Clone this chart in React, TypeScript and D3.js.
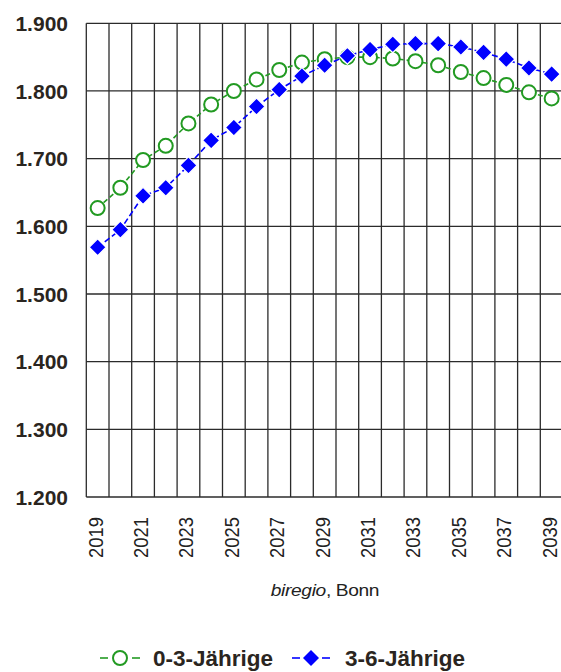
import React, { useEffect, useRef } from "react";
import * as d3 from "d3";

const years = [
  2019, 2020, 2021, 2022, 2023, 2024, 2025, 2026, 2027, 2028, 2029,
  2030, 2031, 2032, 2033, 2034, 2035, 2036, 2037, 2038, 2039,
];
const kids0to3 = [
  1.627, 1.657, 1.698, 1.719, 1.752, 1.78, 1.8, 1.817, 1.831, 1.842, 1.847,
  1.85, 1.85, 1.848, 1.844, 1.838, 1.828, 1.819, 1.809, 1.798, 1.789,
];
const kids3to6 = [
  1.569, 1.595, 1.645, 1.657, 1.69, 1.727, 1.746, 1.777, 1.802, 1.822, 1.838,
  1.852, 1.861, 1.869, 1.87, 1.87, 1.865, 1.857, 1.847, 1.834, 1.825,
];
const yTicks = [1.2, 1.3, 1.4, 1.5, 1.6, 1.7, 1.8, 1.9];
const seriesNames = ["0-3-Jährige", "3-6-Jährige"];

const App = () => {
  const svgRef = useRef<SVGSVGElement | null>(null);

  useEffect(() => {
    const width = 561;
    const height = 672;
    const margin = { top: 23.3, right: -2, bottom: 175, left: 86.3 };

    const svg = d3.select(svgRef.current).attr("width", width).attr("height", height);
    svg.selectAll("*").remove();

    const x = d3
      .scaleBand<number>()
      .domain(years)
      .range([margin.left, width - margin.right]);

    const y = d3
      .scaleLinear()
      .domain([1.2, 1.9])
      .range([height - margin.bottom, margin.top]);

    const cx = (yr: number) => x(yr)! + x.bandwidth() / 2;
    const grid = svg.append("g").attr("stroke", "#2b2b2b").attr("stroke-width", 1.3);

    // vertical lines at category borders
    d3.range(years.length + 1).forEach((i) => {
      const xx = margin.left + i * x.bandwidth();
      grid.append("line")
        .attr("x1", xx).attr("x2", xx)
        .attr("y1", y(1.9)).attr("y2", y(1.2));
    });

    // horizontal lines + labels
    yTicks.forEach((t) => {
      grid.append("line")
        .attr("x1", margin.left).attr("x2", width)
        .attr("y1", y(t)).attr("y2", y(t));
      svg.append("text")
        .attr("x", 68)
        .attr("y", y(t))
        .attr("dy", "0.36em")
        .attr("text-anchor", "end")
        .attr("font-family", "Liberation Sans, Arial, sans-serif")
        .attr("font-weight", "bold")
        .attr("font-size", 21)
        .attr("fill", "#2a2520")
        .text(d3.format(".3f")(t));
    });

    // x labels, every second year
    years.filter((d, i) => i % 2 === 0).forEach((yr) => {
      svg.append("text")
        .attr("transform", `translate(${cx(yr) + 5},517) rotate(-90)`)
        .attr("text-anchor", "end")
        .attr("font-family", "Liberation Sans, Arial, sans-serif")
        .attr("font-size", 21)
        .attr("textLength", 41)
        .attr("lengthAdjust", "spacingAndGlyphs")
        .attr("fill", "#222")
        .text(String(yr));
    });

    // source caption (stretched a bit, like the original)
    const cap = svg.append("text")
      .attr("transform", "translate(325,596) scale(1.2,1)")
      .attr("text-anchor", "middle")
      .attr("font-family", "Liberation Sans, Arial, sans-serif")
      .attr("font-size", 16)
      .attr("letter-spacing", -0.3)
      .attr("fill", "#222");
    cap.append("tspan").attr("font-style", "italic").text("biregio");
    cap.append("tspan").text(", Bonn");

    const green = "#229a22";
    const blue = "#0000ff";
    const diamond = (r: number) => `M0,${-r}L${r},0L0,${r}L${-r},0Z`;

    const line = d3.line<number>()
      .x((d, i) => cx(years[i]))
      .y((d) => y(d));

    // 0-3
    svg.append("path")
      .attr("d", line(kids0to3))
      .attr("fill", "none")
      .attr("stroke", green)
      .attr("stroke-width", 1.6)
      .attr("stroke-dasharray", "5,3");
    svg.selectAll(".c03")
      .data(kids0to3)
      .enter()
      .append("circle")
      .attr("class", "c03")
      .attr("cx", (d, i) => cx(years[i]))
      .attr("cy", (d) => y(d))
      .attr("r", 7)
      .attr("fill", "#fff")
      .attr("stroke", green)
      .attr("stroke-width", 2);

    // 3-6
    svg.append("path")
      .attr("d", line(kids3to6))
      .attr("fill", "none")
      .attr("stroke", blue)
      .attr("stroke-width", 1.6)
      .attr("stroke-dasharray", "6,3");
    svg.selectAll(".c36")
      .data(kids3to6)
      .enter()
      .append("path")
      .attr("class", "c36")
      .attr("transform", (d, i) => `translate(${cx(years[i])},${y(d)})`)
      .attr("d", diamond(8.5))
      .attr("fill", blue)
      .attr("stroke", "#fff")
      .attr("stroke-width", 1.2);

    // legend
    const ly = 658;
    const lg = svg.append("g");
    [[100, 108], [132, 140]].forEach(([a, b]) => {
      lg.append("line").attr("x1", a).attr("x2", b).attr("y1", ly).attr("y2", ly)
        .attr("stroke", green).attr("stroke-width", 1.6);
    });
    lg.append("circle").attr("cx", 120).attr("cy", ly).attr("r", 7)
      .attr("fill", "#fff").attr("stroke", green).attr("stroke-width", 2);
    lg.append("text").attr("x", 153).attr("y", ly).attr("dy", "0.36em")
      .attr("font-family", "Liberation Sans, Arial, sans-serif")
      .attr("font-weight", "bold").attr("font-size", 22.5).attr("fill", "#2a2520")
      .text(seriesNames[0]);

    [[292, 300], [322, 330]].forEach(([a, b]) => {
      lg.append("line").attr("x1", a).attr("x2", b).attr("y1", ly).attr("y2", ly)
        .attr("stroke", blue).attr("stroke-width", 1.6);
    });
    lg.append("path").attr("transform", `translate(311,${ly})`).attr("d", diamond(8))
      .attr("fill", blue);
    lg.append("text").attr("x", 345).attr("y", ly).attr("dy", "0.36em")
      .attr("font-family", "Liberation Sans, Arial, sans-serif")
      .attr("font-weight", "bold").attr("font-size", 22.5).attr("fill", "#2a2520")
      .text(seriesNames[1]);
  }, []);

  return (
    <div style={{ position: "absolute", left: 0, top: 0 }}>
      <svg ref={svgRef} style={{ display: "block" }}></svg>
    </div>
  );
};

export default App;
